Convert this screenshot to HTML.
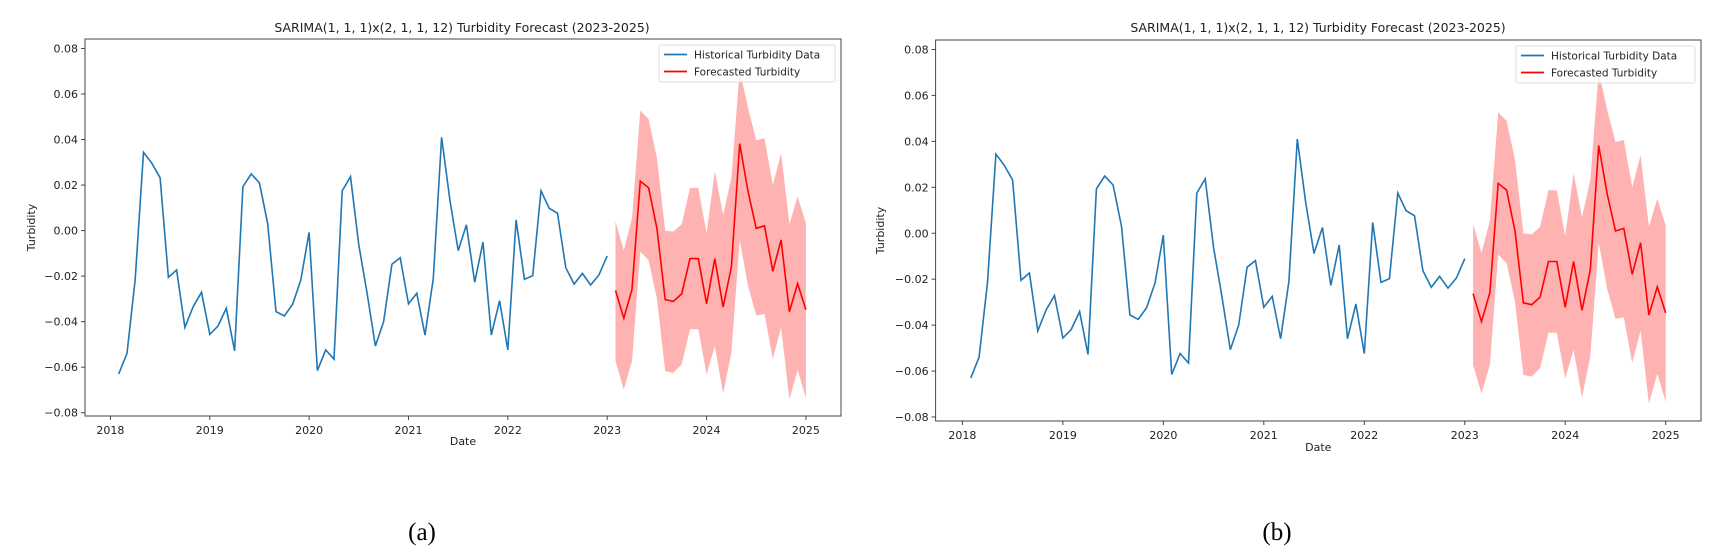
<!DOCTYPE html>
<html><head><meta charset="utf-8">
<style>
html,body{margin:0;padding:0;background:#fff;}
svg{display:block;font-family:"DejaVu Sans","Liberation Sans",sans-serif;}
</style></head>
<body>
<svg id="fig" width="1732" height="556" viewBox="0 0 1732 556" xmlns="http://www.w3.org/2000/svg"></svg>
<script>
const histValues = [-0.063,-0.0539,-0.0214,0.0344,0.0296,0.0232,-0.0205,-0.0173,-0.0425,-0.0334,-0.0271,-0.0456,
 -0.0419,-0.0341,-0.0528,0.0193,0.0249,0.021,0.003,-0.0356,-0.0375,-0.0324,-0.0217,-0.0008,
 -0.0615,-0.0524,-0.0565,0.0175,0.0237,-0.0063,-0.0275,-0.0507,-0.04,-0.0148,-0.0119,-0.0322,
 -0.0275,-0.0459,-0.021,0.041,0.0134,-0.0088,0.0025,-0.0227,-0.0051,-0.0459,-0.0308,-0.0524,
 0.0047,-0.0214,-0.0198,0.0175,0.0098,0.0076,-0.0163,-0.0235,-0.0188,-0.0239,-0.0195,-0.0111];
const histStartMonth = 1; // months after Jan 2018
const fcMean = [-0.0263,-0.0385,-0.0258,0.0217,0.0188,0.001,-0.0303,-0.0311,-0.0278,-0.0123,-0.0123,-0.0322,
 -0.0123,-0.0336,-0.0159,0.0382,0.0173,0.001,0.0021,-0.0179,-0.0041,-0.0356,-0.0233,-0.0347];
const fcUpper = [0.004,-0.0086,0.0055,0.0527,0.049,0.032,-0.0001,-0.0004,0.0028,0.0187,0.0187,-0.0012,
 0.0261,0.007,0.0232,0.0706,0.054,0.0397,0.0406,0.02,0.034,0.0028,0.015,0.0033];
const fcLower = [-0.0573,-0.0698,-0.0573,-0.0093,-0.013,-0.0299,-0.0617,-0.0624,-0.0587,-0.0433,-0.0433,-0.0632,
 -0.0507,-0.0716,-0.0536,-0.0041,-0.0241,-0.0373,-0.0366,-0.0565,-0.0425,-0.0742,-0.0612,-0.0735];
const fcStartMonth = 61; // Feb 2023
const yTicks = [0.08,0.06,0.04,0.02,0.00,-0.02,-0.04,-0.06,-0.08];
const xTicks = [2018,2019,2020,2021,2022,2023,2024,2025];

const NS="http://www.w3.org/2000/svg";
const svg=document.getElementById('fig');
function mk(tag,attrs,parent){const e=document.createElementNS(NS,tag);for(const k in attrs)e.setAttribute(k,attrs[k]);(parent||svg).appendChild(e);return e;}
function fmt(v){const s=Math.abs(v).toFixed(2);return (v<-1e-9?'\u22120':'0')+s.slice(1);}

const panels=[
 {id:'a',L:85,R:841,T:39,B:416,x0:110.4,px:99.36,y0:230.6,py:2276.5,title:462,ylab:31,date:445,cap:422,capY:540,legL:659,legR:835,legT:45,legB:82},
 {id:'b',L:935.6,R:1701,T:40,B:421,x0:962.4,px:100.47,y0:233.25,py:2296.9,title:1318,ylab:880,date:451,cap:1277,capY:540,legL:1516,legR:1695,legT:46,legB:83}
];

panels.forEach(p=>{
 const g=mk('g',{});
 
 
 const X=t=>p.x0+(t-2018)*p.px;
 const Xm=m=>X(2018+m/12);
 const Y=v=>p.y0-v*p.py;
 let d='';
 fcUpper.forEach((v,i)=>{d+=(i?'L':'M')+Xm(fcStartMonth+i).toFixed(1)+','+Y(v).toFixed(1);});
 for(let i=fcLower.length-1;i>=0;i--){d+='L'+Xm(fcStartMonth+i).toFixed(1)+','+Y(fcLower[i]).toFixed(1);}
 const band=mk('path',{d:d+'Z',fill:'#ff0000','fill-opacity':0.3,stroke:'none'},g);
 
 
 const hl=mk('polyline',{points:histValues.map((v,i)=>Xm(histStartMonth+i).toFixed(1)+','+Y(v).toFixed(1)).join(' '),fill:'none',stroke:'#1f77b4','stroke-width':1.6},g);
 
 
 const fl=mk('polyline',{points:fcMean.map((v,i)=>Xm(fcStartMonth+i).toFixed(1)+','+Y(v).toFixed(1)).join(' '),fill:'none',stroke:'#ff0000','stroke-width':1.6},g);
 
 
 const ax=mk('rect',{x:p.L,y:p.T,width:p.R-p.L,height:p.B-p.T,fill:'none',stroke:'#444','stroke-width':1},g);
 
 
 yTicks.forEach(v=>{
  const y=Y(v);
  mk('line',{x1:p.L-4,x2:p.L,y1:y,y2:y,stroke:'#444'},g);
  const t=mk('text',{x:p.L-7,y:y+4,'font-size':11,'text-anchor':'end',fill:'#222'},g);
  t.textContent=fmt(v);
  
  
 });
 xTicks.forEach(v=>{
  const x=X(v);
  mk('line',{x1:x,x2:x,y1:p.B,y2:p.B+4,stroke:'#444'},g);
  const t=mk('text',{x:x,y:p.B+18,'font-size':11,'text-anchor':'middle',fill:'#222'},g);
  t.textContent=v;
  
  
 });
 const ti=mk('text',{x:p.title,y:32,'font-size':12.5,'text-anchor':'middle',fill:'#222'},g);
 ti.textContent='SARIMA(1, 1, 1)x(2, 1, 1, 12) Turbidity Forecast (2023-2025)';
 
 
 const yl=mk('text',{x:0,y:0,'font-size':11,'text-anchor':'middle',fill:'#222',transform:'translate('+(p.ylab+4)+','+((p.T+p.B)/2)+') rotate(-90)'},g);
 yl.textContent='Turbidity';
 
 
 const xl=mk('text',{x:(p.L+p.R)/2,y:p.date,'font-size':11,'text-anchor':'middle',fill:'#222'},g);
 xl.textContent='Date';
 
 
 const lg=mk('g',{},g);
 
 
 mk('rect',{x:p.legL,y:p.legT,width:p.legR-p.legL,height:p.legB-p.legT,rx:2,fill:'#fff','fill-opacity':0.8,stroke:'#ddd'},lg);
 const e1y=p.legT+9.5,e2y=p.legT+26.5;
 mk('line',{x1:p.legL+5,x2:p.legL+28,y1:e1y,y2:e1y,stroke:'#1f77b4','stroke-width':1.8},lg);
 mk('line',{x1:p.legL+5,x2:p.legL+28,y1:e2y,y2:e2y,stroke:'#ff0000','stroke-width':1.8},lg);
 const l1=mk('text',{x:p.legL+35,y:e1y+4,'font-size':10.5,fill:'#222'},lg);
 l1.textContent='Historical Turbidity Data';
 
 
 const l2=mk('text',{x:p.legL+35,y:e2y+4,'font-size':10.5,fill:'#222'},lg);
 l2.textContent='Forecasted Turbidity';
 
 
 const cap=mk('text',{x:p.cap,y:p.capY,'font-size':25,'text-anchor':'middle',fill:'#000','font-family':'"Liberation Serif",serif'},g);
 cap.textContent='('+p.id+')';
 
 
});
</script>
</body></html>
